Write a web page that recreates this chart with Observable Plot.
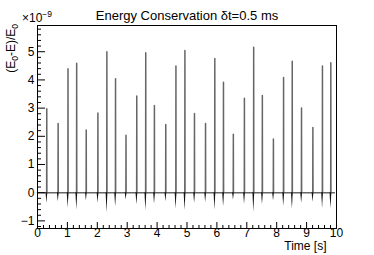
<!DOCTYPE html>
<html><head><meta charset="utf-8">
<script src="https://cdn.jsdelivr.net/npm/d3@7"></script>
<script src="https://cdn.jsdelivr.net/npm/@observablehq/plot@0.6"></script>
<style>body{margin:0;background:#fff} svg{display:block}</style>
</head><body><div id="chart"></div>
<script>
// ---- data (values in units of 1e-9) ----
const spikeTimes = [0.31, 0.69, 1.02, 1.31, 1.63, 2.02, 2.32, 2.61, 2.96, 3.32, 3.62, 3.91, 4.29, 4.63, 4.93,
                    5.25, 5.62, 5.93, 6.22, 6.55, 6.92, 7.23, 7.52, 7.89, 8.23, 8.52, 8.83, 9.21, 9.53, 9.81];
const spikePeaks = [2.98, 2.45, 4.40, 4.59, 2.22, 2.83, 5.00, 4.04, 2.04, 3.43, 4.96, 3.09, 2.42, 4.49, 5.04,
                    2.81, 2.45, 4.76, 3.92, 2.07, 3.35, 5.16, 3.45, 1.90, 4.09, 4.66, 3.00, 2.31, 4.49, 4.61];
const spikeDips  = [-0.37, -0.32, -0.55, -0.61, -0.29, -0.37, -0.71, -0.49, -0.26, -0.43, -0.64, -0.40, -0.32, -0.58, -0.64,
                    -0.37, -0.35, -0.61, -0.49, -0.26, -0.41, -0.69, -0.43, -0.29, -0.49, -0.58, -0.37, -0.34, -0.55, -0.58];
const tStart = 0, tEnd = 9.93;
const xTickValues = [0, 1, 2, 3, 4, 5, 6, 7, 8, 9, 10];
const yTickValues = [-1, 0, 1, 2, 3, 4, 5];
const titleText = "Energy Conservation δt=0.5 ms";
const xLabel = "Time [s]";

// ---- layout ----
const W = 374, H = 255, mL = 37, mR = 38, mT = 25, mB = 27;
const xDom = [0, 10], yDom = [-1.27, 5.93];
const pxX = (W - mL - mR) / (xDom[1] - xDom[0]);
const pxY = (H - mT - mB) / (yDom[1] - yDom[0]);

// build series from read values
const lineData = [{t: tStart, v: 0}];
spikeTimes.forEach((t, i) => {
  lineData.push({t: t - 0.004, v: 0}, {t: t, v: spikePeaks[i]}, {t: t + 0.004, v: 0});
});
lineData.push({t: tEnd, v: 0});
const dipData = spikeTimes.flatMap((t, i) => [
  {t: t - 0.025, v: 0, i}, {t: t + 0.004, v: spikeDips[i], i}, {t: t + 0.035, v: 0, i}
]);

const isInt = d => Math.abs(d - Math.round(d)) < 1e-6;
const xMinor = d3.range(0, 10.0001, 0.2).filter(d => !isInt(d));
const yMinor = d3.range(-1.2, 5.9, 0.2).filter(d => !isInt(d));
const fmt = d => d < 0 ? "\u2212" + Math.abs(d) : String(d);

const chart = Plot.plot({
  width: W, height: H,
  marginLeft: mL, marginRight: mR, marginTop: mT, marginBottom: mB,
  x: {domain: xDom, axis: null},
  y: {domain: yDom, axis: null},
  style: {fontFamily: "'Liberation Sans', Arial, sans-serif", background: "white"},
  marks: [
    Plot.line(lineData, {x: "t", y: "v", stroke: "#666", strokeWidth: 1.5}),
    Plot.areaY(dipData, {x: "t", y: "v", z: "i", fill: "#111"}),
    Plot.frame({stroke: "black", strokeWidth: 1}),
    // inward ticks
    Plot.ruleX(xTickValues, {x: d => d, y1: yDom[0], y2: yDom[0] + 6 / pxY, stroke: "black"}),
    Plot.ruleX(xMinor, {x: d => d, y1: yDom[0], y2: yDom[0] + 3 / pxY, stroke: "black"}),
    Plot.ruleY(yTickValues, {y: d => d, x1: xDom[0], x2: xDom[0] + 8 / pxX, stroke: "black"}),
    Plot.ruleY(yMinor, {y: d => d, x1: xDom[0], x2: xDom[0] + 4 / pxX, stroke: "black"}),
    // tick labels
    Plot.text(xTickValues, {x: d => d, text: d => fmt(d), frameAnchor: "bottom", dy: 8, fontSize: 12, fill: "black"}),
    Plot.text(yTickValues, {y: d => d, text: d => fmt(d), frameAnchor: "left", textAnchor: "end", dx: -3, fontSize: 12, fill: "black"}),
    // title and axis title
    Plot.text([titleText], {frameAnchor: "top", dy: -15, fontSize: 13, fill: "black"}),
    Plot.text([xLabel], {frameAnchor: "bottom-right", textAnchor: "end", dx: -10, dy: 21, fontSize: 12, fill: "black"})
  ]
});
document.getElementById("chart").appendChild(chart);

// exponent label and rotated y title with sub/superscripts
const svg = d3.select(chart);
const ff = "'Liberation Sans', Arial, sans-serif";
const ex = svg.append("text").attr("x", mL).attr("y", 22).attr("font-size", 12).attr("font-family", ff).attr("fill", "black");
ex.append("tspan").text("\u00d710");
ex.append("tspan").attr("dy", -5).attr("font-size", 8.5).text("\u22129");

const yl = svg.append("text").attr("transform", `translate(15,24) rotate(-90)`)
  .attr("text-anchor", "end").attr("font-size", 12).attr("font-family", ff).attr("fill", "black");
yl.append("tspan").text("(E");
yl.append("tspan").attr("dy", 3).attr("font-size", 8.5).text("0");
yl.append("tspan").attr("dy", -3).text("-E)/E");
yl.append("tspan").attr("dy", 3).attr("font-size", 8.5).text("0");
</script>
</body></html>
